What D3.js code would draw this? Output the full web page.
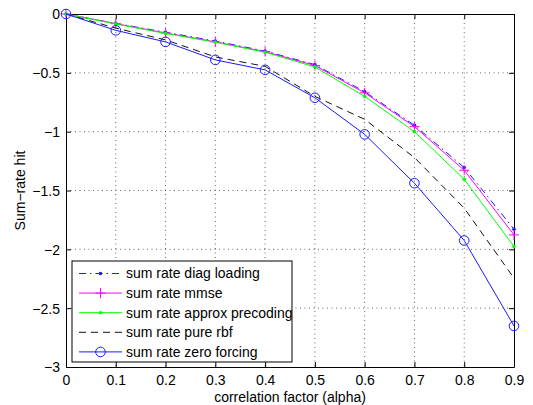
<!DOCTYPE html>
<html>
<head>
<meta charset="utf-8">
<script src="https://cdn.jsdelivr.net/npm/d3@7"></script>
<style>
  html, body { margin: 0; padding: 0; background: #fff; }
  svg { display: block; font-family: "Liberation Sans", Arial, Helvetica, sans-serif; }
</style>
</head>
<body>
<svg id="chart" width="533" height="405"></svg>
<script>
// correlation factor values on the x axis
const alpha = [0, 0.1, 0.2, 0.3, 0.4, 0.5, 0.6, 0.7, 0.8, 0.9];

// sum-rate hit for each precoding scheme
const diagLoading = [0, -0.080, -0.155, -0.230, -0.315, -0.430, -0.660, -0.946, -1.305, -1.829];
const mmse        = [0, -0.082, -0.161, -0.237, -0.320, -0.438, -0.670, -0.957, -1.328, -1.877];
const approxPrec  = [0, -0.085, -0.165, -0.240, -0.325, -0.450, -0.700, -1.000, -1.405, -1.976];
const pureRbf     = [0, -0.120, -0.220, -0.365, -0.445, -0.700, -0.895, -1.220, -1.650, -2.245];
const zeroForcing = [0, -0.139, -0.237, -0.390, -0.475, -0.712, -1.023, -1.438, -1.925, -2.651];

const seriesNames = [
  "sum rate diag loading",
  "sum rate mmse",
  "sum rate approx precoding",
  "sum rate pure rbf",
  "sum rate zero forcing"
];

const xTicks = [0, 0.1, 0.2, 0.3, 0.4, 0.5, 0.6, 0.7, 0.8, 0.9];
const yTicks = [0, -0.5, -1, -1.5, -2, -2.5, -3];

const series = [
  { name: seriesNames[0], values: diagLoading, color: "#1a1aff", dash: "7,4,1.5,4", marker: "dot" },
  { name: seriesNames[1], values: mmse,        color: "#ff00ff", dash: null,        marker: "plus" },
  { name: seriesNames[2], values: approxPrec,  color: "#00ff00", dash: null,        marker: "dot" },
  { name: seriesNames[3], values: pureRbf,     color: "#111111", dash: "7,5",       marker: null },
  { name: seriesNames[4], values: zeroForcing, color: "#1a1aff", dash: null,        marker: "circle" }
];

const svg = d3.select("#chart");
const plotL = 66, plotR = 514, plotT = 14, plotB = 367;

const x = d3.scaleLinear().domain([0, 0.9]).range([plotL, plotR]);
const y = d3.scaleLinear().domain([-3, 0]).range([plotB, plotT]);

const fmt = v => (v < 0 ? "\u2212" : "") + d3.format("~g")(Math.abs(v));

// dotted grid
const grid = svg.append("g");
xTicks.slice(1, -1).forEach(t => {
  grid.append("line")
    .attr("x1", x(t)).attr("x2", x(t)).attr("y1", plotT).attr("y2", plotB)
    .attr("stroke", "#000").attr("stroke-width", 0.6).attr("stroke-dasharray", "1,3.5");
});
yTicks.slice(1, -1).forEach(t => {
  grid.append("line")
    .attr("x1", plotL).attr("x2", plotR).attr("y1", y(t)).attr("y2", y(t))
    .attr("stroke", "#000").attr("stroke-width", 0.6).attr("stroke-dasharray", "1,3.5");
});

// axes (ticks pointing inward, box on all sides)
const tickLen = 5;
const axBottom = svg.append("g").attr("transform", `translate(0,${plotB})`)
  .call(d3.axisBottom(x).tickValues(xTicks).tickSizeInner(-tickLen).tickSizeOuter(0).tickPadding(8).tickFormat(fmt));
const axTop = svg.append("g").attr("transform", `translate(0,${plotT})`)
  .call(d3.axisTop(x).tickValues(xTicks).tickSizeInner(-tickLen).tickSizeOuter(0).tickFormat(""));
const axLeft = svg.append("g").attr("transform", `translate(${plotL},0)`)
  .call(d3.axisLeft(y).tickValues(yTicks).tickSizeInner(-tickLen).tickSizeOuter(0).tickPadding(6).tickFormat(fmt));
const axRight = svg.append("g").attr("transform", `translate(${plotR},0)`)
  .call(d3.axisRight(y).tickValues(yTicks).tickSizeInner(-tickLen).tickSizeOuter(0).tickFormat(""));

[axBottom, axTop, axLeft, axRight].forEach(a => {
  a.selectAll("path.domain").attr("stroke", "#000").attr("stroke-width", 1);
  a.selectAll(".tick line").attr("stroke", "#000");
  a.selectAll("text").attr("font-size", 14).attr("fill", "#000")
    .attr("font-family", "'Liberation Sans', Arial, Helvetica, sans-serif");
});
axBottom.selectAll("text").attr("dy", "0.71em");
axLeft.selectAll("text").attr("dy", "0.35em");

// series lines and markers
const line = d3.line().x((d, i) => x(alpha[i])).y(d => y(d));
const plot = svg.append("g");

function drawMarker(g, kind, cx, cy, color) {
  if (kind === "dot") {
    g.append("circle").attr("cx", cx).attr("cy", cy).attr("r", 1.8).attr("fill", color);
  } else if (kind === "plus") {
    g.append("line").attr("x1", cx - 5).attr("x2", cx + 5).attr("y1", cy).attr("y2", cy)
      .attr("stroke", color).attr("stroke-width", 1);
    g.append("line").attr("x1", cx).attr("x2", cx).attr("y1", cy - 5).attr("y2", cy + 5)
      .attr("stroke", color).attr("stroke-width", 1);
  } else if (kind === "circle") {
    g.append("circle").attr("cx", cx).attr("cy", cy).attr("r", 4.8)
      .attr("fill", "none").attr("stroke", color).attr("stroke-width", 1);
  }
}

series.forEach(s => {
  const g = plot.append("g");
  g.append("path")
    .attr("d", line(s.values))
    .attr("fill", "none")
    .attr("stroke", s.color)
    .attr("stroke-width", 1)
    .attr("stroke-dasharray", s.dash);
  if (s.marker) {
    s.values.forEach((v, i) => drawMarker(g, s.marker, x(alpha[i]), y(v), s.color));
  }
});

// axis titles
svg.append("text")
  .attr("x", (plotL + plotR) / 2).attr("y", 402)
  .attr("text-anchor", "middle").attr("font-size", 14).attr("fill", "#000")
  .text("correlation factor (alpha)");
svg.append("text")
  .attr("transform", `translate(25,${(plotT + plotB) / 2}) rotate(-90)`)
  .attr("text-anchor", "middle").attr("font-size", 14).attr("fill", "#000")
  .text("Sum\u2212rate hit");

// legend
const legX = 72, legY = 261, legW = 220, legH = 101, rowH = 19.6;
const legend = svg.append("g");
legend.append("rect")
  .attr("x", legX).attr("y", legY).attr("width", legW).attr("height", legH)
  .attr("fill", "#fff").attr("stroke", "#000").attr("stroke-width", 1);
series.forEach((s, i) => {
  const cy = legY + 12.5 + i * rowH;
  const g = legend.append("g");
  g.append("line")
    .attr("x1", legX + 7).attr("x2", legX + 50).attr("y1", cy).attr("y2", cy)
    .attr("stroke", s.color).attr("stroke-width", 1)
    .attr("stroke-dasharray", s.dash);
  if (s.marker) drawMarker(g, s.marker, legX + 28.5, cy, s.color);
  g.append("text")
    .attr("x", legX + 54).attr("y", cy).attr("dy", "0.35em")
    .attr("font-size", 14).attr("fill", "#000")
    .text(s.name);
});
</script>
</body>
</html>
